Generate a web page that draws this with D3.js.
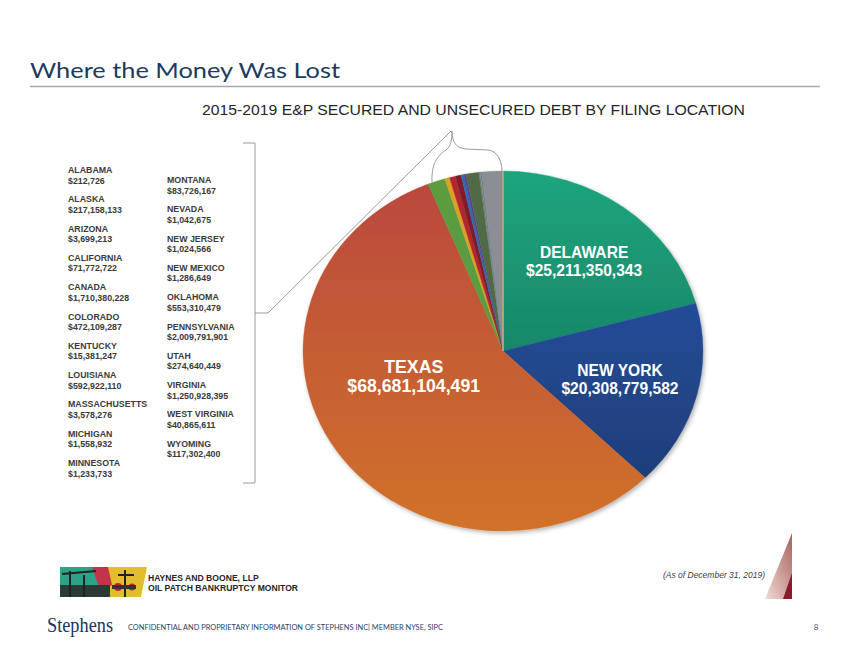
<!DOCTYPE html>
<html>
<head>
<meta charset="utf-8">
<script src="https://cdn.jsdelivr.net/npm/d3@7"></script>
<style>
  body { margin: 0; background: #fff; }
  svg { display: block; }
</style>
</head>
<body>
<div id="chart"></div>
<script>
// page size
const width = 853;
const height = 658;

// big three slices (pie order, clockwise from 12 o'clock)
const mainNames = ["DELAWARE", "NEW YORK", "TEXAS"];
const mainValues = [25211350343, 20308779582, 68681104491];

// small locations, as listed on the left (alphabetical)
const otherNames = ["ALABAMA", "ALASKA", "ARIZONA", "CALIFORNIA", "CANADA", "COLORADO",
  "KENTUCKY", "LOUISIANA", "MASSACHUSETTS", "MICHIGAN", "MINNESOTA",
  "MONTANA", "NEVADA", "NEW JERSEY", "NEW MEXICO", "OKLAHOMA", "PENNSYLVANIA",
  "UTAH", "VIRGINIA", "WEST VIRGINIA", "WYOMING"];
const otherValues = [212726, 217158133, 3699213, 71772722, 1710380228, 472109287,
  15381247, 592922110, 3578276, 1558932, 1233733,
  83726167, 1042675, 1024566, 1286649, 553310479, 2009791901,
  274640449, 1250928395, 40865611, 117302400];

// order the small slices follow in the pie after TEXAS
const sliceOrder = ["CANADA", "COLORADO", "LOUISIANA", "OKLAHOMA", "UTAH", "ALASKA",
  "VIRGINIA", "WYOMING", "CALIFORNIA", "MONTANA", "PENNSYLVANIA",
  "WEST VIRGINIA", "KENTUCKY", "ARIZONA", "MASSACHUSETTS", "MICHIGAN",
  "NEW MEXICO", "MINNESOTA", "NEVADA", "NEW JERSEY", "ALABAMA"];

// slice colours
const sliceColors = {
  "DELAWARE": "url(#gDel)", "NEW YORK": "url(#gNy)", "TEXAS": "url(#gTx)",
  "CANADA": "#5c9c3f", "COLORADO": "#d9a226", "LOUISIANA": "#b3272e",
  "OKLAHOMA": "#7e1c2c", "UTAH": "#2d6cb6", "ALASKA": "#5d3f8e",
  "VIRGINIA": "#506b45", "WYOMING": "#6e7d5c", "CALIFORNIA": "#8596a8",
  "MONTANA": "#5e7089", "PENNSYLVANIA": "#8b8e92",
  "WEST VIRGINIA": "#c9a07a", "KENTUCKY": "#a3a3a3", "ARIZONA": "#c9a07a",
  "MASSACHUSETTS": "#a3a3a3", "MICHIGAN": "#c9a07a", "NEW MEXICO": "#a3a3a3",
  "MINNESOTA": "#c9a07a", "NEVADA": "#a3a3a3", "NEW JERSEY": "#c9a07a", "ALABAMA": "#c9a07a"
};

const fmt = d3.format("$,");

const svg = d3.select("#chart").append("svg")
  .attr("width", width)
  .attr("height", height)
  .attr("viewBox", [0, 0, width, height]);

svg.append("rect").attr("width", width).attr("height", height).attr("fill", "#fff");

const defs = svg.append("defs");

// vertical gradients for the big slices
function grad(id, c1, c2) {
  const g = defs.append("linearGradient").attr("id", id)
    .attr("gradientUnits", "userSpaceOnUse")
    .attr("x1", 0).attr("y1", -180).attr("x2", 0).attr("y2", 180);
  g.append("stop").attr("offset", "0%").attr("stop-color", c1);
  g.append("stop").attr("offset", "100%").attr("stop-color", c2);
}
grad("gDel", "#1fa57d", "#0f6a55");
grad("gNy", "#2756ae", "#1d3a70");
grad("gTx", "#b9473e", "#d1722a");

const shadow = defs.append("filter").attr("id", "shadow")
  .attr("x", "-10%").attr("y", "-10%").attr("width", "120%").attr("height", "120%");
shadow.append("feDropShadow").attr("dx", 1.5).attr("dy", 2).attr("stdDeviation", 2)
  .attr("flood-color", "#000").attr("flood-opacity", 0.3);

/* title */
svg.append("text")
  .attr("x", 30).attr("y", 78)
  .attr("font-family", "Lato, 'Noto Sans', sans-serif")
  .attr("font-size", 22)
  .attr("fill", "#1d3a5f")
  .attr("textLength", 310).attr("lengthAdjust", "spacingAndGlyphs")
  .text("Where the Money Was Lost");

svg.append("line")
  .attr("x1", 30).attr("x2", 820).attr("y1", 86.5).attr("y2", 86.5)
  .attr("stroke", "#a9a9a9").attr("stroke-width", 1.5);

svg.append("text")
  .attr("x", 202).attr("y", 115)
  .attr("font-family", "'Liberation Sans', Arial, sans-serif")
  .attr("font-size", 14.5)
  .attr("fill", "#262626")
  .attr("textLength", 543).attr("lengthAdjust", "spacingAndGlyphs")
  .text("2015-2019 E&P SECURED AND UNSECURED DEBT BY FILING LOCATION");

/* pie */
const cx = 503, cy = 351, rx = 200, ry = 180;

const pieData = mainNames.map((n, i) => ({name: n, value: mainValues[i]}))
  .concat(sliceOrder.map(n => ({name: n, value: otherValues[otherNames.indexOf(n)]})));

const pie = d3.pie().sort(null).value(d => d.value);
const arc = d3.arc().innerRadius(0).outerRadius(ry);

const pieG = svg.append("g")
  .attr("transform", `translate(${cx},${cy}) scale(${rx / ry},1)`)
  .attr("filter", "url(#shadow)");

pieG.selectAll("path")
  .data(pie(pieData))
  .enter()
  .append("path")
    .attr("d", arc)
    .attr("fill", d => sliceColors[d.data.name])
    .attr("stroke", d => sliceColors[d.data.name])
    .attr("stroke-width", 0.3);

// labels for the big three (angle in degrees, radius, font size, line gap)
const labelSpots = {
  "DELAWARE": [39, 116, 15.6, 18],
  "NEW YORK": [105, 109, 15.6, 18],
  "TEXAS": [253, 84, 17.7, 19]
};

mainNames.forEach((n, i) => {
  const s = labelSpots[n];
  const a = s[0] * Math.PI / 180;
  const x = cx + Math.sin(a) * s[1] * rx / ry;
  const y = cy - Math.cos(a) * s[1];
  const t = svg.append("text")
    .attr("text-anchor", "middle")
    .attr("font-family", "'Liberation Sans', Arial, sans-serif")
    .attr("font-weight", "bold")
    .attr("font-size", s[2])
    .attr("fill", "#fff");
  t.append("tspan").attr("x", x).attr("y", y - 3).text(n);
  t.append("tspan").attr("x", x).attr("y", y - 3 + s[3]).text(fmt(mainValues[i]));
});

/* list of small locations */
const listG = svg.append("g")
  .attr("font-family", "'Liberation Sans', Arial, sans-serif")
  .attr("font-weight", "bold")
  .attr("font-size", 8.8)
  .attr("fill", "#3a3a3a");

otherNames.forEach((n, i) => {
  const col = i < 11 ? 0 : 1;
  const row = col === 0 ? i : i - 11;
  const x = col === 0 ? 68 : 167;
  const y = (col === 0 ? 173 : 183) + row * 29.3;
  listG.append("text").attr("x", x).attr("y", y).text(n);
  listG.append("text").attr("x", x).attr("y", y + 10.5).text(fmt(otherValues[i]));
});

// bracket, connector and brace
const lineCol = "#9a9a9a";
svg.append("path")
  .attr("d", "M243,143 L255,143 L255,483 L243,483")
  .attr("fill", "none").attr("stroke", lineCol).attr("stroke-width", 1);
svg.append("path")
  .attr("d", "M255,313 L268,313 L451,131")
  .attr("fill", "none").attr("stroke", lineCol).attr("stroke-width", 1);
svg.append("path")
  .attr("d", "M432,182 C431,161 440,154 446,150 C451,146 452,140 452,131 C452,142 456,148 466,149 L488,150 C497,151 502,160 502,172")
  .attr("fill", "none").attr("stroke", lineCol).attr("stroke-width", 1);

/* footer bits */
// Haynes and Boone picture (rough)
const clip = defs.append("clipPath").attr("id", "hbClip");
clip.append("polygon").attr("points", "60,567 147,567 141,597 60,597");
const hb = svg.append("g").attr("clip-path", "url(#hbClip)");
hb.append("rect").attr("x", 60).attr("y", 567).attr("width", 90).attr("height", 30).attr("fill", "#e2bd2e");
hb.append("rect").attr("x", 60).attr("y", 567).attr("width", 38).attr("height", 30).attr("fill", "#2aa386");
hb.append("path").attr("d", "M92,567 L108,567 L112,585 L100,590 Z").attr("fill", "#c2344a");
hb.append("rect").attr("x", 60).attr("y", 585).attr("width", 50).attr("height", 12).attr("fill", "#2b3a34");
hb.append("path").attr("d", "M62,574 L96,571 M70,571 L70,597 M84,575 L84,597 M125,570 L125,597 M118,575 L134,575")
  .attr("stroke", "#222").attr("stroke-width", 2).attr("fill", "none");
hb.append("circle").attr("cx", 118).attr("cy", 587).attr("r", 4).attr("fill", "#c9202d");
hb.append("circle").attr("cx", 132).attr("cy", 587).attr("r", 3.5).attr("fill", "#c9202d");
hb.append("rect").attr("x", 112).attr("y", 585).attr("width", 24).attr("height", 4).attr("fill", "#333");

const hbText = svg.append("g")
  .attr("font-family", "'Liberation Sans', Arial, sans-serif")
  .attr("font-weight", "bold").attr("font-size", 8.6).attr("fill", "#262626");
hbText.append("text").attr("x", 148).attr("y", 581).text("HAYNES AND BOONE, LLP");
hbText.append("text").attr("x", 148).attr("y", 591).text("OIL PATCH BANKRUPTCY MONITOR");

svg.append("text")
  .attr("x", 765).attr("y", 578).attr("text-anchor", "end")
  .attr("font-family", "'Liberation Sans', Arial, sans-serif")
  .attr("font-style", "italic").attr("font-size", 8.5).attr("fill", "#404040")
  .text("(As of December 31, 2019)");

// red triangle decoration
const tri = defs.append("linearGradient").attr("id", "gTri")
  .attr("x1", "0%").attr("y1", "100%").attr("x2", "100%").attr("y2", "0%");
tri.append("stop").attr("offset", "0%").attr("stop-color", "#f1dcd6");
tri.append("stop").attr("offset", "100%").attr("stop-color", "#a8615e");
svg.append("polygon").attr("points", "792,533 792,599 765,599").attr("fill", "url(#gTri)");
svg.append("polygon").attr("points", "792,573 792,599 783,599").attr("fill", "#8c1a2b");

// bottom line
svg.append("text")
  .attr("x", 47).attr("y", 632)
  .attr("font-family", "'Liberation Serif', 'DejaVu Serif', serif")
  .attr("font-size", 20).attr("fill", "#1b3360")
  .attr("textLength", 66).attr("lengthAdjust", "spacingAndGlyphs")
  .text("Stephens");

svg.append("text")
  .attr("x", 128).attr("y", 630)
  .attr("font-family", "Lato, 'Noto Sans', sans-serif")
  .attr("font-size", 7.5).attr("fill", "#2a3f66")
  .attr("textLength", 315).attr("lengthAdjust", "spacingAndGlyphs")
  .text("CONFIDENTIAL AND PROPRIETARY INFORMATION OF STEPHENS INC| MEMBER NYSE, SIPC");

svg.append("text")
  .attr("x", 816).attr("y", 630).attr("text-anchor", "middle")
  .attr("font-family", "Lato, 'Noto Sans', sans-serif")
  .attr("font-size", 8).attr("fill", "#44546a")
  .text("8");
</script>
</body>
</html>
